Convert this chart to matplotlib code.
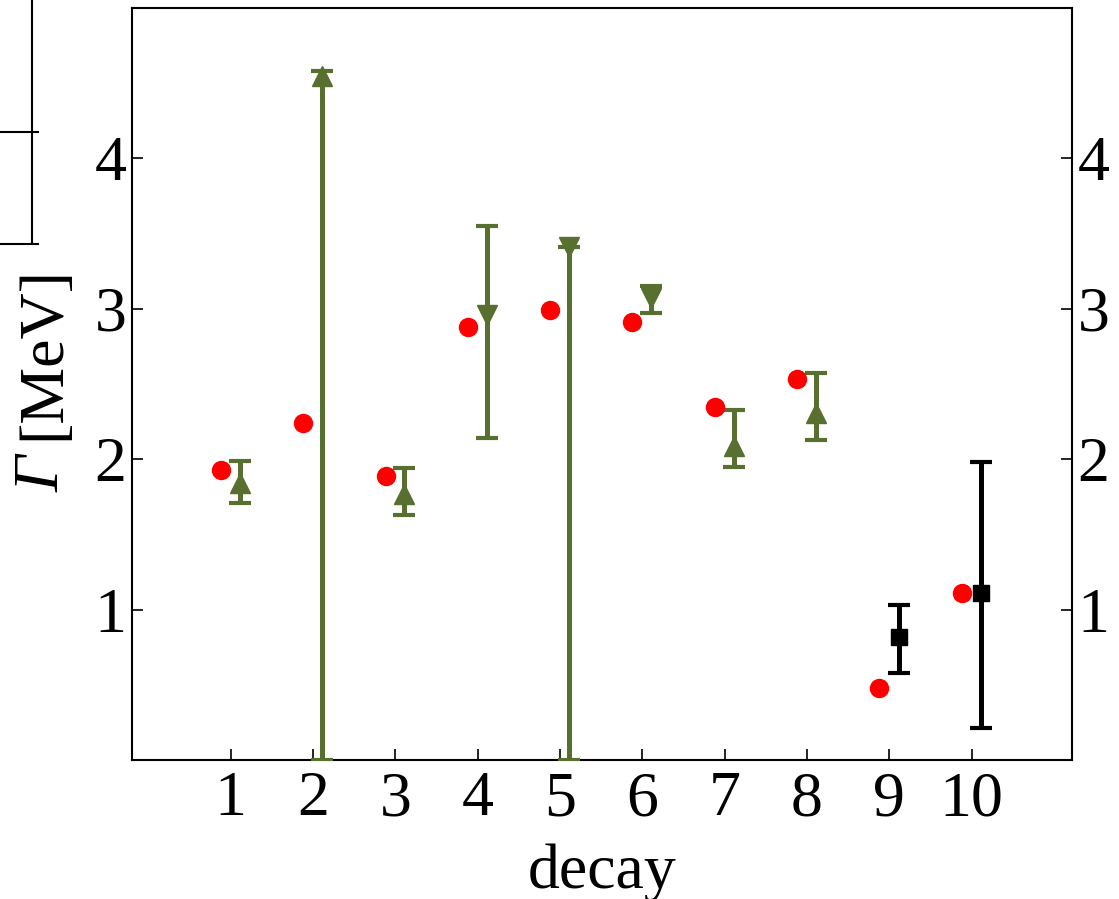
import matplotlib
matplotlib.use("Agg")
import matplotlib.pyplot as plt
from matplotlib.lines import Line2D

plt.rcParams['font.family'] = ['Liberation Serif', 'DejaVu Serif']

# Data
decays = [1, 2, 3, 4, 5, 6, 7, 8, 9, 10]
theory = [1.93, 2.24, 1.89, 2.88, 2.99, 2.91, 2.35, 2.53, 0.48, 1.11]

up_x = [1, 2, 3, 7, 8]
up_y = [1.84, 4.55, 1.77, 2.09, 2.31]
up_lo = [1.71, 0.0, 1.63, 1.95, 2.13]
up_hi = [1.99, 4.58, 1.94, 2.33, 2.57]

down_x = [4, 5, 6]
down_y = [2.96, 3.41, 3.07]
down_lo = [2.14, 0.0, 2.97]
down_hi = [3.55, 3.41, 3.15]

sq_x = [9, 10]
sq_y = [0.82, 1.11]
sq_lo = [0.58, 0.21]
sq_hi = [1.03, 1.98]

xticks = [1, 2, 3, 4, 5, 6, 7, 8, 9, 10]
yticks = [1, 2, 3, 4]

green = '#58702f'
W, H = 1119, 899
fig = plt.figure(figsize=(W / 100, H / 100), dpi=100)
ax = fig.add_axes([132 / W, (H - 760) / H, (1072 - 132) / W, (760 - 8) / H])

ebkw = dict(elinewidth=3.6, capsize=8, capthick=3.0, linestyle='none')

def err(y, lo, hi):
    return [[v - l for v, l in zip(y, lo)], [h - v for v, h in zip(y, hi)]]

ax.errorbar([x + 0.11 for x in up_x], up_y, yerr=err(up_y, up_lo, up_hi),
            fmt='^', color=green, ms=15, zorder=3, **ebkw)
ax.errorbar([x + 0.11 for x in down_x], down_y, yerr=err(down_y, down_lo, down_hi),
            fmt='v', color=green, ms=15, zorder=3, **ebkw)
ax.errorbar([x + 0.12 for x in sq_x], sq_y, yerr=err(sq_y, sq_lo, sq_hi),
            fmt='s', color='black', ms=11, zorder=3, **ebkw)
ax.plot([x - 0.12 for x in decays], theory, 'o', color='red', ms=14,
        mec='none', zorder=4, linestyle='none')

ax.set_xlim(-0.2, 11.22)
ax.set_ylim(0, 5)
ax.set_xticks(xticks)
ax.set_yticks(yticks)
ax.tick_params(direction='in', length=8, width=1.2, labelsize=46, pad=8,
               right=True, labelright=True, top=False)
ax.tick_params(axis='y', pad=4)
for s in ax.spines.values():
    s.set_linewidth(1.5)

ax.set_xlabel('decay', fontsize=46, labelpad=10)

# y label: italic Gamma followed by upright unit
fig.text(44 / W, 1 - 474 / H, 'Γ', rotation=90, fontsize=46, style='italic',
         ha='center', va='center')
fig.text(44 / W, 1 - 353 / H, '[MeV]', rotation=90, fontsize=46,
         ha='center', va='center')

# fragment of a neighbouring panel at the top left
def px(x0, y0, x1, y1):
    fig.add_artist(Line2D([x0 / W, x1 / W], [1 - y0 / H, 1 - y1 / H],
                          transform=fig.transFigure, color='black', lw=1.5))
px(32, 0, 32, 244)
px(0, 132, 38, 132)
px(0, 244, 38, 244)

fig.savefig('out.png', dpi=100)
